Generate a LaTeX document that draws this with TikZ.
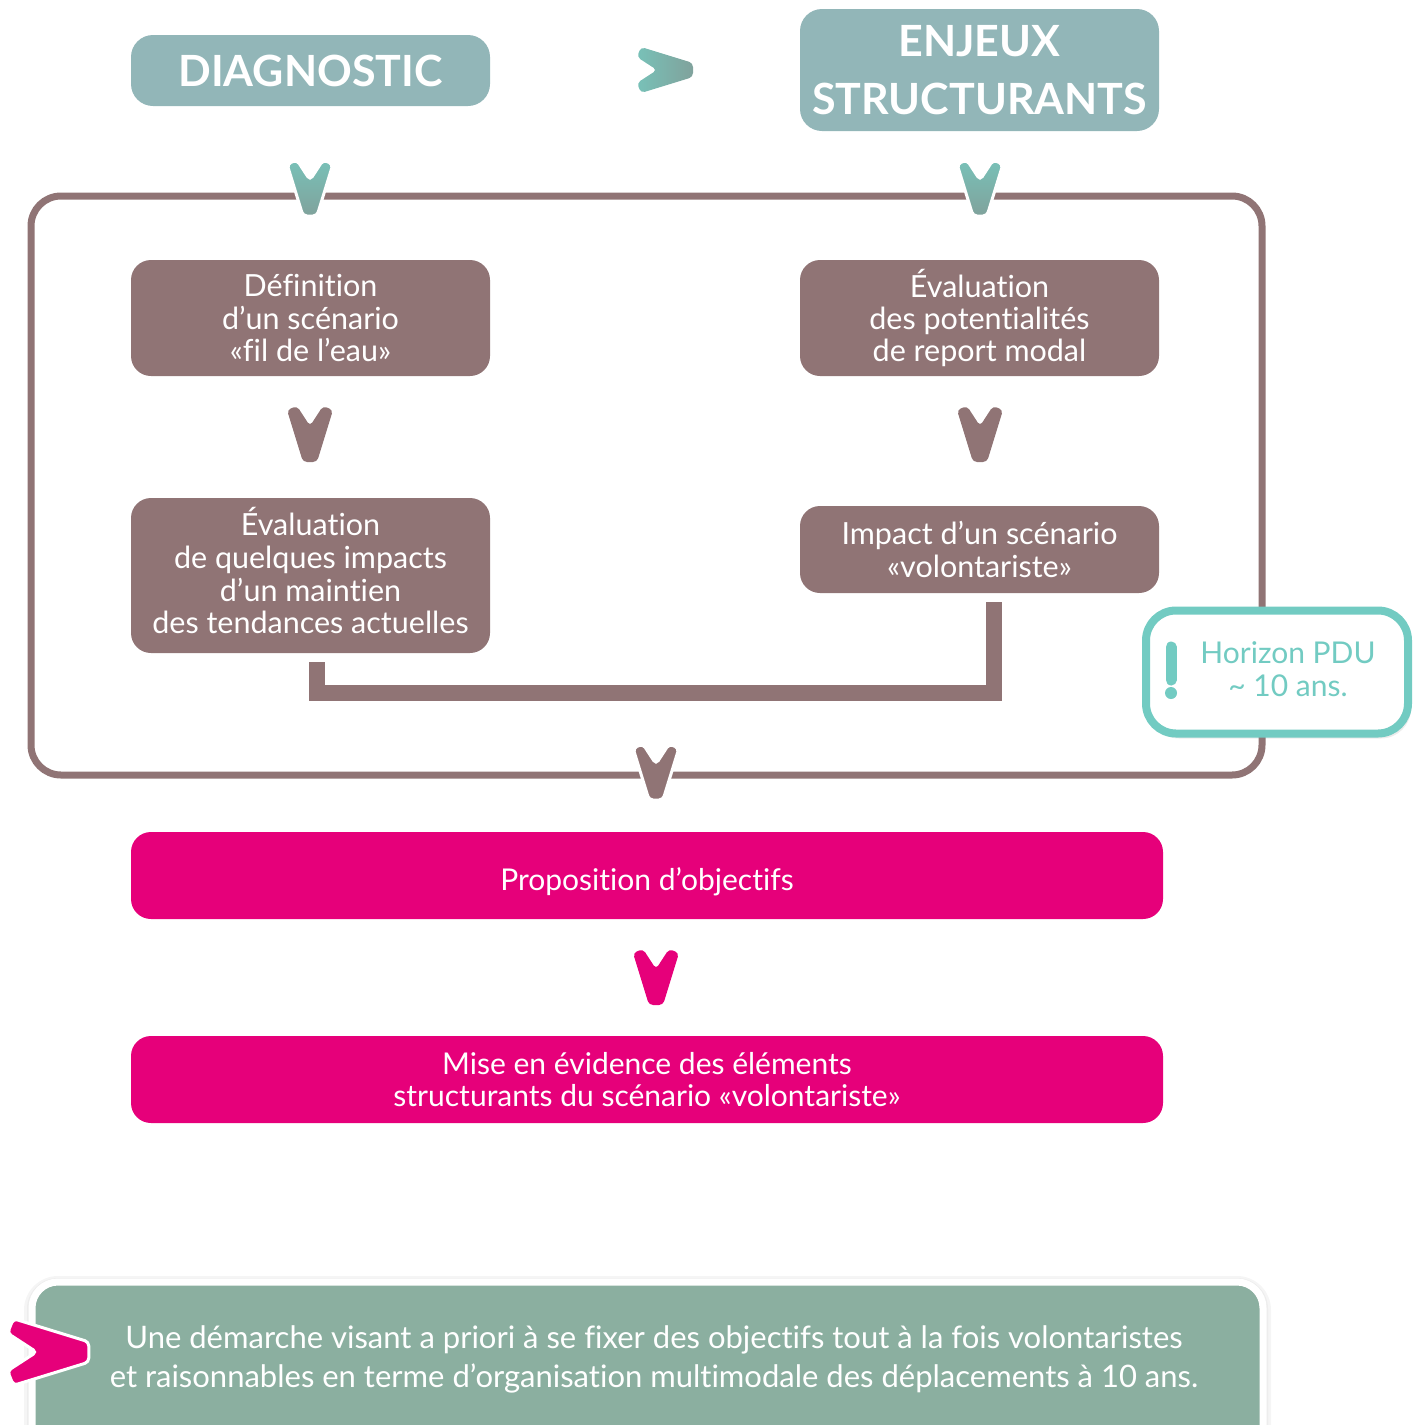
\documentclass[tikz,border=0pt]{standalone}
\usepackage{fontspec}
\setmainfont{Lato}[Ligatures={NoCommon}]
\usetikzlibrary{shadows}
\definecolor{hdr}{HTML}{92B6B8}
\definecolor{tealA}{HTML}{78C1B8}
\definecolor{tealB}{HTML}{80A29C}
\definecolor{mauve}{HTML}{907475}
\definecolor{pinkc}{HTML}{E6007A}
\definecolor{hzn}{HTML}{72CBC2}
\definecolor{sage}{HTML}{8BAFA0}
\tikzset{
  hdrbox/.style={fill=hdr, rounded corners=22pt, inner sep=0pt, text=white,
    font=\fontsize{43}{58}\selectfont\bfseries, align=center, minimum width=359pt},
  mbox/.style={fill=mauve, rounded corners=20pt, inner sep=0pt, text=white,
    font=\fontsize{30.5}{32.3}\selectfont, align=center, minimum width=359pt},
  pbox/.style={fill=pinkc, rounded corners=20pt, inner sep=0pt, text=white,
    font=\fontsize{30}{32}\selectfont, align=center, minimum width=1032pt, minimum height=87pt},
  wtxt/.style={text=white, inner sep=0pt, align=center},
  conn/.style={draw=mauve, line width=16pt},
  dchev/.pic={\path[pic actions, rounded corners=4pt] (-23,3) -- (-13,-1) -- (0,19) -- (13,-1) -- (23,3) -- (7,55) -- (-7,55) -- cycle;},
  rchev/.pic={\path[pic actions, rounded corners=4pt] (3,-23) -- (-1,-13) -- (19,0) -- (-1,13) -- (3,23) -- (55,7) -- (55,-7) -- cycle;},
}
\begin{document}
\begin{tikzpicture}[x=1pt, y=-1pt]
\useasboundingbox (0,0) rectangle (1416,1425);
% headers
\node[hdrbox, minimum height=71pt] (diag) at (310.5,70.5) {DIAGNOSTIC};
\node[hdrbox, minimum height=122pt] (enj) at (979.5,70) {ENJEUX\\STRUCTURANTS};
\pic[left color=tealA, right color=tealB] (hch) at (638,70) {rchev};
% frame
\draw[mauve, line width=7pt, rounded corners=30pt] (31,196) rectangle (1262,775);
% teal arrows into frame
\pic[top color=tealA, bottom color=tealB, draw=white, line width=3pt] (ta1) at (310,161) {dchev};
\pic[top color=tealA, bottom color=tealB, draw=white, line width=3pt] (ta2) at (980,161) {dchev};
% mauve boxes
\node[mbox, minimum height=116pt] (def) at (310.5,318) {Définition\\d’un scénario\\«fil de l’eau»};
\node[mbox, minimum height=116pt] (pot) at (979.5,318) {Évaluation\\des potentialités\\de report modal};
\pic[fill=mauve] (ma1) at (310,407) {dchev};
\pic[fill=mauve] (ma2) at (980,407) {dchev};
\node[mbox, minimum height=155pt] (evl) at (310.5,575.5) {\raisebox{4pt}{\begin{tabular}{@{}c@{}}Évaluation\\de quelques impacts\\d’un maintien\\des tendances actuelles\end{tabular}}};
\node[mbox, minimum height=87pt] (imp) at (979.5,549.5) {Impact d’un scénario\\«volontariste»};
% connector
\draw[conn] ([shift={(6.5pt,-9pt)}]evl.south) -- ++(0,31) -| ([shift={(14.5pt,-9pt)}]imp.south);
% arrow out of frame
\pic[fill=mauve, draw=white, line width=3pt] (ma3) at (656,745) {dchev};
% pink boxes
\node[pbox] (prop) at (647,875.5) {};
\node[wtxt, font=\fontsize{30}{32}\selectfont] (proptxt) at (647,882) {Proposition d’objectifs};
\pic[fill=pinkc] (pa1) at (656,950) {dchev};
\node[pbox] (mise) at (647,1079.5) {Mise en évidence des éléments\\structurants du scénario «volontariste»};
% horizon box
\node[draw=hzn, fill=white, line width=8pt, rounded corners=30pt, minimum width=262pt, minimum height=123pt,
      drop shadow={shadow xshift=3pt, shadow yshift=-5pt, opacity=0.15}] (hor) at (1277,672) {};
\draw[hzn, line width=11pt, line cap=round] (1171,647) -- (1171,680);
\fill[hzn] (1171,693) circle (6pt);
\node[text=hzn, font=\fontsize{30}{33}\selectfont, align=center] (hortxt) at (1288,669) {Horizon PDU\\\textasciitilde{} 10 ans.};
% bottom banner
\path[fill=black!4, rounded corners=34pt] (24,1276) rectangle (1271,1470);
\path[fill=black!7, rounded corners=31pt] (27,1278) rectangle (1268,1470);
\path[fill=sage, draw=white, line width=7pt, rounded corners=26pt] (32,1282) rectangle (1263,1470);
\node[text=white, font=\fontsize{31}{39}\selectfont, align=center] (note) at (654,1359)
  {Une démarche visant a priori à se fixer des objectifs tout à la fois volontaristes\\et raisonnables en terme d’organisation multimodale des déplacements à 10 ans.};
\pic[fill=pinkc, draw=white, line width=3pt, scale=1.45] (pk) at (9,1352) {rchev};
\end{tikzpicture}
\end{document}
